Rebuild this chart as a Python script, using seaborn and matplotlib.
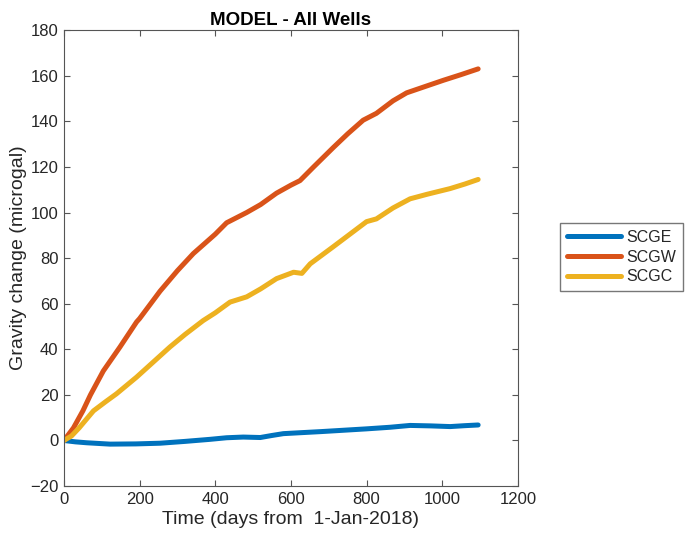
import matplotlib
matplotlib.use("Agg")
import matplotlib.pyplot as plt
import seaborn as sns
import pandas as pd

# days since 1-Jan-2018 and gravity change (microgal)
scge_days = [0, 30, 60, 122, 190, 254, 320, 386, 430, 474, 519, 550, 580, 624, 680,
             730, 800, 862, 915, 970, 1021, 1060, 1095]
scge_vals = [0.0, -0.6, -1.0, -1.6, -1.5, -1.2, -0.4, 0.5, 1.2, 1.5, 1.3, 2.2, 3.0,
             3.4, 3.9, 4.4, 5.1, 5.8, 6.6, 6.4, 6.1, 6.5, 6.8]

scgw_days = [0, 25, 50, 70, 104, 148, 192, 200, 254, 300, 342, 400, 430, 483, 520,
             562, 600, 624, 660, 712, 750, 791, 826, 870, 906, 950, 1003, 1050, 1095]
scgw_vals = [0.0, 5.5, 13.0, 20.0, 30.5, 41.0, 52.0, 53.5, 65.5, 74.5, 82.0, 90.5,
             95.5, 100.0, 103.5, 108.5, 112.0, 114.0, 120.0, 128.5, 134.5, 140.5,
             143.5, 149.0, 152.5, 155.0, 158.0, 160.5, 163.0]

scgc_days = [0, 20, 40, 78, 110, 139, 192, 240, 280, 320, 368, 400, 439, 483, 520,
             562, 607, 629, 651, 712, 760, 800, 826, 870, 915, 960, 1021, 1060, 1095]
scgc_vals = [0.0, 2.0, 5.5, 13.0, 17.0, 20.5, 27.8, 35.0, 41.0, 46.5, 52.6, 56.0,
             60.7, 63.0, 66.5, 71.0, 73.8, 73.3, 77.5, 85.0, 91.0, 96.0, 97.2, 102.0,
             106.0, 108.0, 110.5, 112.5, 114.5]

wells = ["SCGE", "SCGW", "SCGC"]
colors = {"SCGE": "#0072BD", "SCGW": "#D95319", "SCGC": "#EDB120"}

df = pd.concat([
    pd.DataFrame({"days": scge_days, "gravity": scge_vals, "well": "SCGE"}),
    pd.DataFrame({"days": scgw_days, "gravity": scgw_vals, "well": "SCGW"}),
    pd.DataFrame({"days": scgc_days, "gravity": scgc_vals, "well": "SCGC"}),
], ignore_index=True)

sns.set_style("white")
plt.rcParams["font.family"] = ["Liberation Sans", "DejaVu Sans"]

fig = plt.figure(figsize=(6.85, 5.48), dpi=100)
ax = fig.add_axes([0.0934, 0.113, 0.6626, 0.832])

sns.lineplot(data=df, x="days", y="gravity", hue="well", hue_order=wells,
             palette=colors, linewidth=3.6, sort=False, ax=ax)

ax.set_xlim(0, 1200)
ax.set_ylim(-20, 180)
ax.set_xticks(range(0, 1201, 200))
ax.set_yticks(range(-20, 181, 20))
ax.set_title("MODEL - All Wells", fontsize=13.5, fontweight="bold", color="black", pad=4)
ax.set_xlabel("Time (days from  1-Jan-2018)", fontsize=14, color="#262626", labelpad=3)
ax.set_ylabel("Gravity change (microgal)", fontsize=14, color="#262626", labelpad=2)

ax.tick_params(direction="in", length=4, width=0.8, color="#555555",
               labelsize=12, labelcolor="#262626", top=True, right=True,
               bottom=True, left=True, pad=4)
for s in ax.spines.values():
    s.set_color("#555555")
    s.set_linewidth(0.8)

handles, labels = ax.get_legend_handles_labels()
ax.legend(handles, labels, loc="center left", bbox_to_anchor=(0.8175, 0.531),
          bbox_transform=fig.transFigure, frameon=True, fancybox=False,
          edgecolor="#555555", fontsize=11.5, handlelength=3.4, borderpad=0.45,
          borderaxespad=0, labelspacing=0.3, handletextpad=0.3)

fig.savefig("out.png", dpi=100)
